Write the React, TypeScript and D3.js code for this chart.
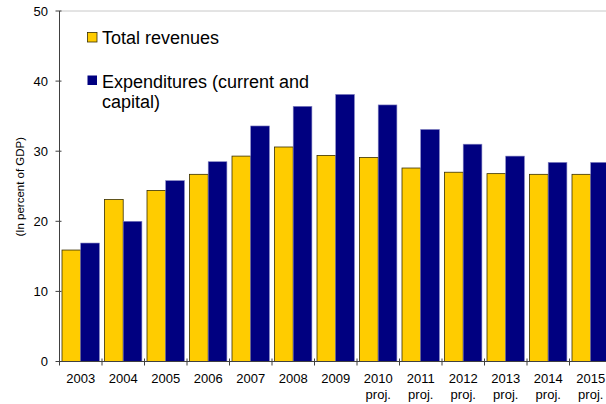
import React from "react";
import * as d3 from "d3";

const years = ["2003","2004","2005","2006","2007","2008","2009","2010","2011","2012","2013","2014","2015"];
const projected = [false,false,false,false,false,false,false,true,true,true,true,true,true];
const revenues = [15.9,23.1,24.4,26.7,29.3,30.6,29.4,29.1,27.6,27.0,26.8,26.7,26.7];
const expenditures = [16.9,20.0,25.8,28.5,33.6,36.4,38.1,36.6,33.1,31.0,29.3,28.4,28.4];
const yTicks = [0,10,20,30,40,50];

export default function App() {
  const W = 606, H = 404;
  const x0 = 59.5, bandW = 42.5;
  const x = d3.scaleBand<string>().domain(years).range([x0, x0 + bandW * years.length]).paddingInner(0).paddingOuter(0);
  const y = d3.scaleLinear().domain([0, 50]).range([361.5, 11]);
  const barW = 18.7;
  const off = 2.5;
  const font = "Liberation Sans, Arial, sans-serif";
  return (
    <svg width={W} height={H} style={{ position: "absolute", left: 0, top: 0 }} fontFamily={font}>
      <rect width={W} height={H} fill="#fff" />
      <line x1={x0} x2={W} y1={y(50)} y2={y(50)} stroke="#c8c8c8" strokeWidth={1} />
      {years.map((yr, i) => {
        const bx = x(yr)! + off;
        return (
          <g key={yr}>
            <rect x={bx} y={y(revenues[i])} width={barW} height={y(0) - y(revenues[i])} fill="#FFCC00" stroke="#3a3000" strokeWidth={0.8} />
            <rect x={bx + barW} y={y(expenditures[i])} width={barW} height={y(0) - y(expenditures[i])} fill="#000080" stroke="#8080c0" strokeWidth={0.6} />
          </g>
        );
      })}
      <line x1={x0} x2={x0} y1={y(50)} y2={y(0)} stroke="#404040" strokeWidth={1} />
      <line x1={x0} x2={W} y1={y(0)} y2={y(0)} stroke="#404040" strokeWidth={1} />
      {yTicks.map(t => (
        <g key={t}>
          <line x1={x0 - 4} x2={x0 + 2} y1={y(t)} y2={y(t)} stroke="#404040" />
          <text x={48} y={y(t) + 4.5} textAnchor="end" fontSize={13} fill="#000">{t}</text>
        </g>
      ))}
      {years.map((yr, i) => (
        <g key={"l" + yr}>
          <line x1={x(yr)!} x2={x(yr)!} y1={y(0) - 3} y2={y(0) + 4} stroke="#404040" />
          <text x={x(yr)! + bandW / 2} y={383} textAnchor="middle" fontSize={13} fill="#000">{yr}</text>
          {projected[i] && <text x={x(yr)! + bandW / 2} y={399} textAnchor="middle" fontSize={13} fill="#000">proj.</text>}
        </g>
      ))}
      <text transform={`translate(24,${y(25) + 0.5})rotate(-90)`} textAnchor="middle" fontSize={11.5} fill="#000">(In percent of GDP)</text>
      <rect x={87.5} y={32.5} width={9.5} height={9.5} fill="#FFCC00" stroke="#3a3000" strokeWidth={0.8} />
      <text x={102} y={44} fontSize={18} fill="#000">Total revenues</text>
      <rect x={87.5} y={75.5} width={9.5} height={9.5} fill="#000080" />
      <text x={102} y={88} fontSize={18} fill="#000">Expenditures (current and</text>
      <text x={102} y={108} fontSize={18} fill="#000">capital)</text>
    </svg>
  );
}
